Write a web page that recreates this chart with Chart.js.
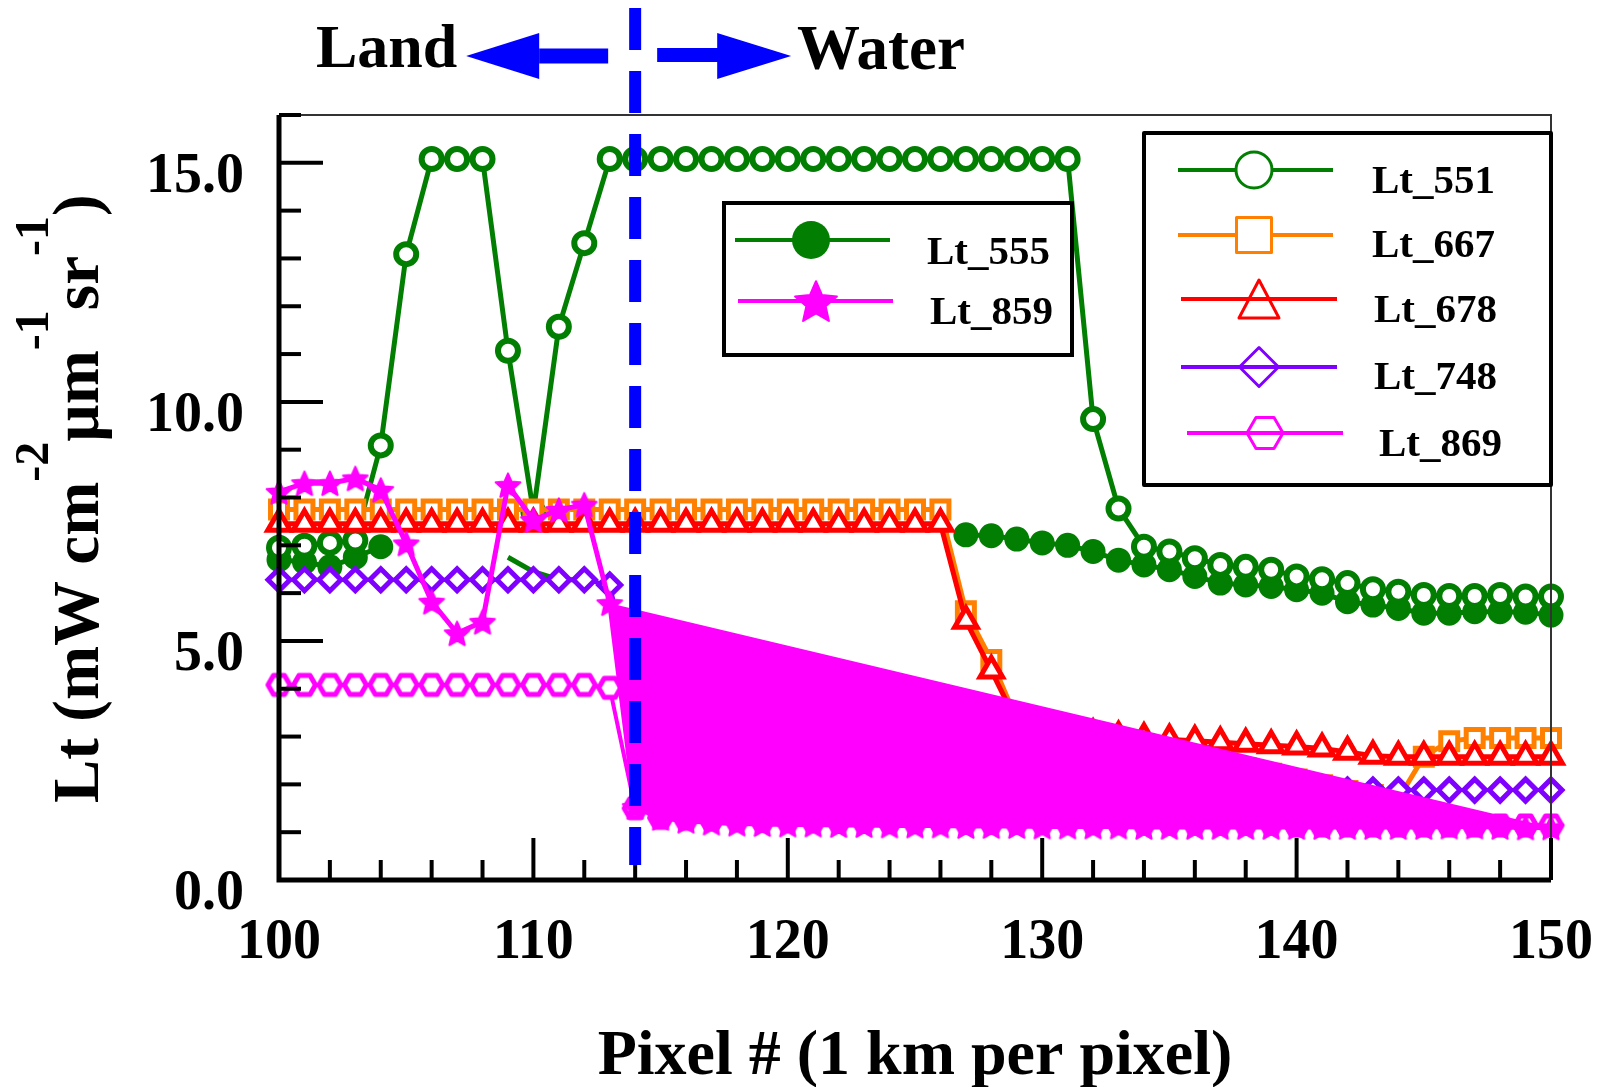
<!DOCTYPE html>
<html>
<head>
<meta charset="utf-8">
<title>Lt across the land / water boundary</title>
<script src="https://cdn.jsdelivr.net/npm/chart.js@4.4.1/dist/chart.umd.min.js"></script>
<style>
  html, body { margin: 0; padding: 0; background: #fff; }
  canvas { display: block; }
</style>
</head>
<body>
<canvas id="ltChart" width="1623" height="1087"></canvas>
<script>
// pixel numbers along the transect (1 km per pixel)
var pixelNums = [100, 101, 102, 103, 104, 105, 106, 107, 108, 109,
                 110, 111, 112, 113, 114, 115, 116, 117, 118, 119,
                 120, 121, 122, 123, 124, 125, 126, 127, 128, 129,
                 130, 131, 132, 133, 134, 135, 136, 137, 138, 139,
                 140, 141, 142, 143, 144, 145, 146, 147, 148, 149, 150];

var lt551 = [6.95, 6.99, 7.05, 7.10, 9.09, 13.09, 15.08, 15.08, 15.08, 11.07,
             7.70, 11.57, 13.32, 15.08, 15.08, 15.08, 15.08, 15.08, 15.08, 15.08,
             15.08, 15.08, 15.08, 15.08, 15.08, 15.08, 15.08, 15.08, 15.08, 15.08,
             15.08, 15.08, 9.64, 7.77, 6.97, 6.87, 6.73, 6.59, 6.55, 6.49,
             6.35, 6.29, 6.21, 6.08, 6.03, 5.96, 5.94, 5.94, 5.96, 5.93, 5.93];

var lt555 = [6.70, 6.65, 6.55, 6.75, 6.97, null, null, null, null, 6.75,
             6.45, 6.28, 6.28, null, null, null, null, null, null, null,
             null, null, null, null, null, null, null, 7.22, 7.20, 7.13,
             7.05, 7.00, 6.87, 6.69, 6.59, 6.49, 6.35, 6.21, 6.17, 6.14,
             6.07, 6.00, 5.82, 5.75, 5.68, 5.58, 5.58, 5.61, 5.61, 5.60, 5.54];

var lt667 = [7.75, 7.75, 7.75, 7.75, 7.75, 7.75, 7.75, 7.75, 7.75, 7.75,
             7.75, 7.75, 7.75, 7.75, 7.75, 7.75, 7.75, 7.75, 7.75, 7.75,
             7.75, 7.75, 7.75, 7.75, 7.75, 7.75, 7.75, 5.62, 4.60, 3.35,
             3.22, 3.10, 3.00, 2.95, 2.83, 2.70, 2.58, 2.46, 2.34, 2.22,
             2.10, 1.98, 1.86, 1.78, 1.70, 2.58, 2.90, 2.97, 2.97, 2.97, 2.97];

var lt678 = [7.45, 7.45, 7.45, 7.45, 7.45, 7.45, 7.45, 7.45, 7.45, 7.45,
             7.45, 7.45, 7.45, 7.45, 7.45, 7.45, 7.45, 7.45, 7.45, 7.45,
             7.45, 7.45, 7.45, 7.45, 7.45, 7.45, 7.45, 5.42, 4.38, 3.30,
             3.20, 3.12, 3.05, 3.00, 2.97, 2.94, 2.91, 2.88, 2.85, 2.82,
             2.79, 2.75, 2.68, 2.60, 2.58, 2.58, 2.58, 2.58, 2.58, 2.58, 2.58];

var lt748 = [6.28, 6.28, 6.28, 6.28, 6.28, 6.28, 6.28, 6.28, 6.28, 6.28,
             6.28, 6.28, 6.28, 6.17, 4.00, 2.25, 2.20, 2.18, 2.15, 2.12,
             2.10, 2.08, 2.06, 2.05, 2.04, 2.03, 2.02, 2.01, 2.00, 2.00,
             1.99, 1.98, 1.97, 1.96, 1.95, 1.94, 1.93, 1.92, 1.91, 1.90,
             1.90, 1.89, 1.88, 1.88, 1.88, 1.88, 1.88, 1.88, 1.88, 1.88, 1.88];

var lt859 = [8.12, 8.30, 8.30, 8.40, 8.16, 7.04, 5.82, 5.16, 5.40, 8.26,
             7.53, 7.74, 7.85, 5.79, 1.53, 1.30, 1.24, 1.20, 1.18, 1.17,
             1.16, 1.16, 1.15, 1.15, 1.14, 1.14, 1.14, 1.13, 1.13, 1.13,
             1.12, 1.12, 1.12, 1.12, 1.11, 1.11, 1.11, 1.11, 1.11, 1.11,
             1.11, 1.11, 1.11, 1.11, 1.11, 1.11, 1.12, 1.12, 1.11, 1.10, 1.10];

var lt869 = [4.08, 4.08, 4.08, 4.08, 4.08, 4.08, 4.08, 4.08, 4.08, 4.08,
             4.08, 4.08, 4.08, 4.02, 1.50, 1.30, 1.28, 1.27, 1.26, 1.25,
             1.25, 1.24, 1.24, 1.23, 1.23, 1.22, 1.22, 1.22, 1.21, 1.21,
             1.21, 1.20, 1.20, 1.20, 1.20, 1.20, 1.20, 1.19, 1.19, 1.19,
             1.14, 1.14, 1.14, 1.14, 1.14, 1.14, 1.14, 1.14, 1.14, 1.14, 1.14];

var yTicks = [0, 5, 10, 15];
var xTicks = [100, 110, 120, 130, 140, 150];
var boundaryPixel = 114;   // land / water edge
var waterStart = 113;      // first point of the filled water trace

var GREEN = '#027f02', ORANGE = '#ff8000', RED = '#ff0000',
    PURPLE = '#8000ff', MAGENTA = '#ff00ff', BLUE = '#0000ff';
var SERIF = '"Liberation Serif", "Times New Roman", serif';

function toPoints(values) {
    return values.map(function(v, i) { return { x: pixelNums[i], y: v }; });
}

function makeStar(R, color) {
    var s = Math.ceil(2 * R + 6), c = document.createElement('canvas');
    c.width = s; c.height = s;
    var g = c.getContext('2d');
    g.translate(s / 2, s / 2 + R * 0.1);
    g.beginPath();
    for (var k = 0; k < 10; k++) {
        var r = k % 2 ? R * 0.46 : R;
        var ang = -Math.PI / 2 + k * Math.PI / 5;
        g.lineTo(r * Math.cos(ang), r * Math.sin(ang));
    }
    g.closePath();
    g.fillStyle = color; g.strokeStyle = color; g.lineWidth = 2; g.lineJoin = 'round';
    g.fill(); g.stroke();
    return c;
}

function hexPath(g, cx, cy, a) {
    var h = a * Math.sqrt(3) / 2;
    g.beginPath();
    g.moveTo(cx + a, cy); g.lineTo(cx + a / 2, cy + h); g.lineTo(cx - a / 2, cy + h);
    g.lineTo(cx - a, cy); g.lineTo(cx - a / 2, cy - h); g.lineTo(cx + a / 2, cy - h);
    g.closePath();
}

function makeHex(a, lw, color) {
    var s = Math.ceil(2 * a + lw + 4), c = document.createElement('canvas');
    c.width = s; c.height = s;
    var g = c.getContext('2d');
    hexPath(g, s / 2, s / 2, a);
    g.fillStyle = '#fff'; g.fill();
    g.strokeStyle = color; g.lineWidth = lw; g.lineJoin = 'round'; g.stroke();
    return c;
}

var starMark = makeStar(13, MAGENTA);
var hexMark = makeHex(11, 5, MAGENTA);

var fillPoints = toPoints(lt859).filter(function(p) { return p.x >= waterStart; });

function drawLegendBox(ctx, box, rows) {
    ctx.fillStyle = '#fff';
    ctx.fillRect(box.x, box.y, box.w, box.h);
    ctx.strokeStyle = '#000'; ctx.lineWidth = 4;
    ctx.strokeRect(box.x, box.y, box.w, box.h);
    rows.forEach(function(r) {
        ctx.strokeStyle = r.color; ctx.lineWidth = 4;
        ctx.beginPath(); ctx.moveTo(r.x1, r.y); ctx.lineTo(r.x2, r.y); ctx.stroke();
        ctx.lineWidth = 3; ctx.lineJoin = 'round';
        ctx.fillStyle = '#fff';
        if (r.mark === 'openCircle') {
            ctx.beginPath(); ctx.arc(r.mx, r.y, 18, 0, 2 * Math.PI); ctx.fill(); ctx.stroke();
        } else if (r.mark === 'dot') {
            ctx.fillStyle = r.color;
            ctx.beginPath(); ctx.arc(r.mx, r.y, 19, 0, 2 * Math.PI); ctx.fill();
        } else if (r.mark === 'square') {
            ctx.fillRect(r.mx - 17.5, r.y - 17.5, 35, 35); ctx.strokeRect(r.mx - 17.5, r.y - 17.5, 35, 35);
        } else if (r.mark === 'triangle') {
            ctx.beginPath(); ctx.moveTo(r.mx, r.y - 19); ctx.lineTo(r.mx + 20, r.y + 19); ctx.lineTo(r.mx - 20, r.y + 19);
            ctx.closePath(); ctx.fill(); ctx.stroke();
        } else if (r.mark === 'diamond') {
            ctx.beginPath(); ctx.moveTo(r.mx, r.y - 19.5); ctx.lineTo(r.mx + 19.5, r.y); ctx.lineTo(r.mx, r.y + 19.5);
            ctx.lineTo(r.mx - 19.5, r.y); ctx.closePath(); ctx.fill(); ctx.stroke();
        } else if (r.mark === 'hexagon') {
            hexPath(ctx, r.mx, r.y, 18); ctx.stroke();
        } else if (r.mark === 'star') {
            var st = makeStar(22, r.color);
            ctx.drawImage(st, r.mx - st.width / 2, r.y - st.height / 2);
        }
        if (r.mark === 'diamond' || r.mark === 'triangle' || r.mark === 'hexagon') {
            ctx.beginPath(); ctx.moveTo(r.x1, r.y); ctx.lineTo(r.x2, r.y); ctx.lineWidth = 4; ctx.stroke();
        }
        ctx.fillStyle = '#000';
        ctx.font = 'bold 41px ' + SERIF;
        ctx.textAlign = 'left'; ctx.textBaseline = 'alphabetic';
        ctx.fillText(r.label, r.tx, r.ty);
    });
}

var decorations = {
    id: 'decorations',
    afterDraw: function(chart) {
        var ctx = chart.ctx, a = chart.chartArea, xs = chart.scales.x, ys = chart.scales.y;
        ctx.save();

        // thin top and right frame
        ctx.strokeStyle = '#333'; ctx.lineWidth = 2;
        ctx.beginPath(); ctx.moveTo(a.left, a.top); ctx.lineTo(a.right, a.top); ctx.lineTo(a.right, a.bottom); ctx.stroke();

        // inward tick marks
        ctx.strokeStyle = '#000'; ctx.lineWidth = 4;
        xs.ticks.forEach(function(t) {
            var px = xs.getPixelForValue(t.value), len = t.value % 10 === 0 ? 42 : 20;
            ctx.beginPath(); ctx.moveTo(px, a.bottom); ctx.lineTo(px, a.bottom - len); ctx.stroke();
        });
        ys.ticks.forEach(function(t) {
            var py = ys.getPixelForValue(t.value), len = t.value % 5 === 0 ? 44 : 22;
            ctx.beginPath(); ctx.moveTo(a.left, py); ctx.lineTo(a.left + len, py); ctx.stroke();
        });

        // thick left and bottom axes
        ctx.lineWidth = 5;
        ctx.beginPath(); ctx.moveTo(a.left, a.top); ctx.lineTo(a.left, a.bottom); ctx.lineTo(a.right, a.bottom); ctx.stroke();

        // legends
        drawLegendBox(ctx, { x: 724, y: 203, w: 348, h: 152 }, [
            { label: 'Lt_555', color: GREEN, mark: 'dot', x1: 735, x2: 890, y: 240, mx: 811, tx: 927, ty: 264 },
            { label: 'Lt_859', color: MAGENTA, mark: 'star', x1: 738, x2: 893, y: 301, mx: 816, tx: 930, ty: 324 }
        ]);
        drawLegendBox(ctx, { x: 1144, y: 133, w: 407, h: 352 }, [
            { label: 'Lt_551', color: GREEN, mark: 'openCircle', x1: 1178, x2: 1333, y: 170, mx: 1254, tx: 1372, ty: 193 },
            { label: 'Lt_667', color: ORANGE, mark: 'square', x1: 1178, x2: 1333, y: 235, mx: 1254, tx: 1372, ty: 257 },
            { label: 'Lt_678', color: RED, mark: 'triangle', x1: 1181, x2: 1337, y: 299, mx: 1259, tx: 1374, ty: 322 },
            { label: 'Lt_748', color: PURPLE, mark: 'diamond', x1: 1181, x2: 1337, y: 367, mx: 1259, tx: 1374, ty: 389 },
            { label: 'Lt_869', color: MAGENTA, mark: 'hexagon', x1: 1187, x2: 1343, y: 433, mx: 1265, tx: 1379, ty: 456 }
        ]);

        // land / water boundary
        var bx = xs.getPixelForValue(boundaryPixel);
        ctx.strokeStyle = BLUE; ctx.lineWidth = 12; ctx.setLineDash([42, 21]);
        ctx.beginPath(); ctx.moveTo(bx, 8); ctx.lineTo(bx, 865); ctx.stroke();
        ctx.setLineDash([]);

        // arrows
        ctx.fillStyle = BLUE;
        ctx.fillRect(bx - 96, 48.5, 69, 15);
        ctx.beginPath(); ctx.moveTo(bx - 169, 56); ctx.lineTo(bx - 96, 33); ctx.lineTo(bx - 96, 79); ctx.closePath(); ctx.fill();
        ctx.fillRect(bx + 22, 48, 61, 14);
        ctx.beginPath(); ctx.moveTo(bx + 156, 56); ctx.lineTo(bx + 82, 33); ctx.lineTo(bx + 82, 79); ctx.closePath(); ctx.fill();

        ctx.fillStyle = '#000';
        ctx.textAlign = 'left'; ctx.textBaseline = 'alphabetic';
        ctx.font = 'bold 62px ' + SERIF;
        ctx.fillText('Land', 316, 67);
        ctx.font = 'bold 63px ' + SERIF;
        ctx.fillText('Water', 797, 69);

        // y axis title with superscripts
        var parts = [['Lt (mW cm', 0], ['-2', 1], ['\u00b5m', 0], ['-1', 1], ['sr', 0], ['-1', 1], [')', 0]];
        ctx.translate(98, 803);
        ctx.rotate(-Math.PI / 2);
        var cx = 0;
        parts.forEach(function(p) {
            ctx.font = p[1] ? 'bold 48px ' + SERIF : 'bold 65px ' + SERIF;
            ctx.fillText(p[0], cx, p[1] ? -50 : 0);
            cx += ctx.measureText(p[0]).width;
        });
        ctx.restore();
    }
};

var commonLine = { showLine: true, clip: false, spanGaps: false, tension: 0 };

var config = {
    type: 'line',
    data: {
        datasets: [
            Object.assign({
                label: 'Lt_859', data: toPoints(lt859), order: 0,
                borderColor: MAGENTA, borderWidth: 5,
                pointStyle: starMark, pointRadius: 13
            }, commonLine),
            Object.assign({
                label: 'water fill', data: fillPoints, order: 1,
                borderWidth: 0, pointRadius: 0, fill: 'shape', backgroundColor: MAGENTA
            }, commonLine),
            Object.assign({
                label: 'Lt_869', data: toPoints(lt869), order: 2,
                borderColor: MAGENTA, borderWidth: 4,
                pointStyle: hexMark, pointRadius: 13
            }, commonLine),
            Object.assign({
                label: 'Lt_748', data: toPoints(lt748), order: 3,
                borderColor: PURPLE, borderWidth: 4,
                pointStyle: 'rectRot', pointRadius: 11, pointBorderWidth: 5,
                pointBorderColor: PURPLE, pointBackgroundColor: '#fff'
            }, commonLine),
            Object.assign({
                label: 'Lt_678', data: toPoints(lt678), order: 4,
                borderColor: RED, borderWidth: 5,
                pointStyle: 'triangle', pointRadius: 13, pointBorderWidth: 5,
                pointBorderColor: RED, pointBackgroundColor: '#fff'
            }, commonLine),
            Object.assign({
                label: 'Lt_667', data: toPoints(lt667), order: 5,
                borderColor: ORANGE, borderWidth: 5,
                pointStyle: 'rect', pointRadius: 12, pointBorderWidth: 5,
                pointBorderColor: ORANGE, pointBackgroundColor: '#fff'
            }, commonLine),
            Object.assign({
                label: 'Lt_551', data: toPoints(lt551), order: 6,
                borderColor: GREEN, borderWidth: 5,
                pointStyle: 'circle', pointRadius: 10, pointBorderWidth: 6,
                pointBorderColor: GREEN, pointBackgroundColor: '#fff'
            }, commonLine),
            Object.assign({
                label: 'Lt_555', data: toPoints(lt555), order: 7,
                borderColor: GREEN, borderWidth: 5,
                pointStyle: 'circle', pointBorderWidth: 3,
                pointRadius: function(c) { return c.raw && c.raw.x > 104 && c.raw.x < 127 ? 0 : 11; },
                pointBorderColor: GREEN, pointBackgroundColor: GREEN
            }, commonLine)
        ]
    },
    options: {
        responsive: false,
        animation: false,
        events: [],
        layout: { padding: { left: 0, top: 115, right: 57, bottom: 0 } },
        plugins: { legend: { display: false }, tooltip: { enabled: false } },
        scales: {
            x: {
                type: 'linear', min: 100, max: 150,
                grid: { display: false, drawTicks: false },
                border: { display: false },
                ticks: {
                    stepSize: 2, autoSkip: false, maxRotation: 0, padding: 30, color: '#000',
                    font: { family: SERIF, size: 56, weight: 'bold' },
                    callback: function(v) { return xTicks.indexOf(v) >= 0 ? String(v) : ''; }
                },
                title: {
                    display: true, text: 'Pixel # (1 km per pixel)', color: '#000',
                    font: { family: SERIF, size: 64, weight: 'bold', lineHeight: 0.85 },
                    padding: { top: 0, bottom: 2 }
                },
                afterFit: function(s) { s.height = 207; }
            },
            y: {
                type: 'linear', min: 0, max: 16,
                grid: { display: false, drawTicks: false },
                border: { display: false },
                ticks: {
                    stepSize: 1, autoSkip: false, padding: 35, labelOffset: 15, color: '#000',
                    font: { family: SERIF, size: 56, weight: 'bold' },
                    callback: function(v) { return yTicks.indexOf(v) >= 0 ? v.toFixed(1) : ''; }
                },
                afterFit: function(s) { s.width = 279; }
            }
        }
    },
    plugins: [decorations]
};

window.onload = function() {
    var ltCtx = document.getElementById('ltChart').getContext('2d');
    window.ltChart = new Chart(ltCtx, config);
};
</script>
</body>
</html>
